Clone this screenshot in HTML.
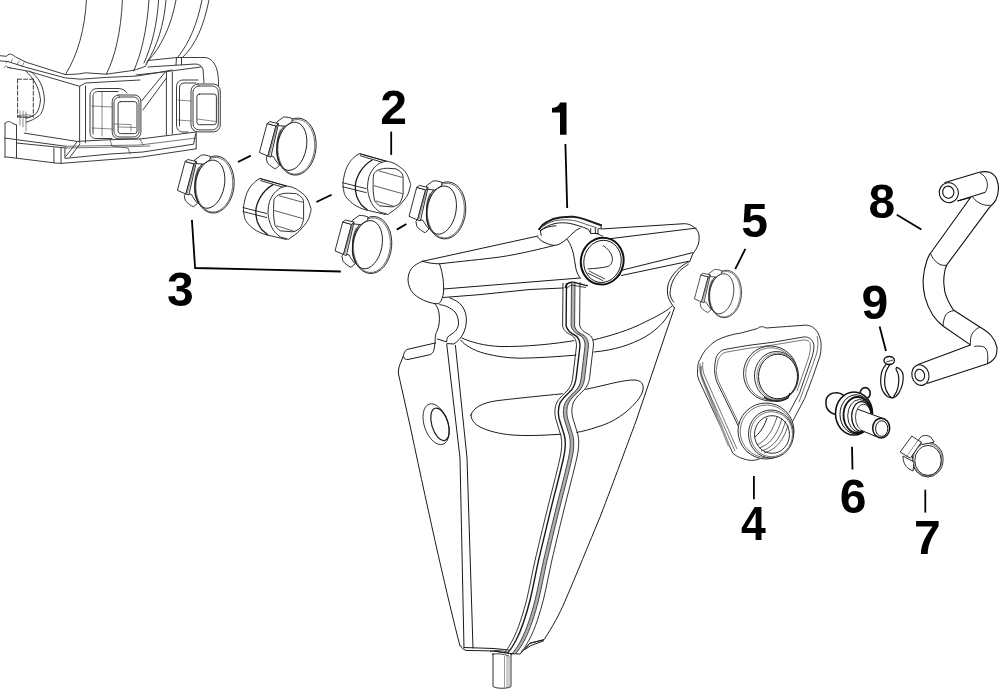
<!DOCTYPE html>
<html><head><meta charset="utf-8"><style>
html,body{margin:0;padding:0;background:#fff;width:1000px;height:689px;overflow:hidden}
svg{position:absolute;left:0;top:0;will-change:transform}
text{font-family:"Liberation Sans",sans-serif;font-weight:bold;font-size:48px;fill:#000}
</style></head><body>
<svg width="1000" height="689" viewBox="0 0 1000 689">
<g id="manifold" fill="none" stroke="#3c3c3c" stroke-width="1" stroke-linejoin="round" stroke-linecap="round">
<!-- big curves -->
<path d="M86.4,0 C85,28 78,55 65.3,74.6"/>
<path d="M122.4,0 C121,32 115,57 106.3,74.2"/>
<path d="M149,0 C147,30 141,55 133.7,70.9"/>
<path d="M158.6,0 C157,25 152,45 144,63"/>
<path d="M166,0 C164,25 157,47 146.5,63"/>
<path d="M176,0 C171,27 161,47 148,61"/>
<path d="M202,0 C197,25 189,43 178,57"/>
<path d="M209,0 C204,25 196,45 182,58"/>
<!-- top rail -->
<path d="M0,55.7 L6.5,56.3 C8,54 10,53.8 11.7,54.4 C13,55 14.5,56 15.7,57 L26.1,62.2 L65.3,74.6 L78.3,74 L85.4,72.8 L106.3,74.2 L129.8,70.9 L136.4,69.6 L145.5,66.3 L148,61"/>
<path d="M0,60.9 L7.8,61.5 L26.1,67.4 L65.3,77.9 L80.9,79.2 L106.3,77.4 L136.4,76.1 L157.2,72.8 L172,70"/>
<path d="M7.8,67.4 L28.7,71.3 L79.6,86.3 L85.5,83 L140,80"/>
<path d="M6,63 L8,61 M11,62.5 L12.5,59 M17,64.5 L19,61 M22,66.5 L24,62.5" stroke-width="0.6"/>
<path d="M4,68 C5,66 6,65.5 7,66 L8,68 M10,67 L11,69" stroke-width="0.6"/>
<!-- left arch -->
<path d="M30,71.3 C38,76 44,86 44.4,100 C44,108 42,113 39.2,115.7 C35,119 30,121 26.1,122.2"/>
<path d="M26.1,71.3 C33,78 39,86 40.5,100 C40,106 38.5,110 36.6,113.1 C33,116 30,117.5 26.1,118.3"/>
<path d="M17.6,79.2 L33.3,79.2 M17.6,79.2 L17.6,117 M33.3,79.2 L33.3,117 M17.6,117 L30,117" stroke-dasharray="4,2"/>
<path d="M18,116 C22,114.5 30,114.5 33,116 C30,118 22,118 18,116 Z" stroke-width="0.6"/>
<!-- posts -->
<path d="M79.6,86.3 L79.6,143 M85.5,86 L85.5,142.5"/>
<path d="M166.4,72 L166.4,135 M172.3,72 L172.3,134"/>
<path d="M141.6,100.9 L165.1,72.2 M142.9,110 L166.4,78"/>
<!-- connector 1 back -->
<path d="M112,138.5 L96,138.5 C92,138.5 90,136 90,132 L90,96 C90,91 93,88.5 98,88.5 L118,88.5 C122,88.5 125,90 127,93"/>
<path d="M93,134 L93,97 C93,93 95,91.5 99,91.5 L118,91.5"/>
<path d="M92,106 L112,107 M92,128 L112,129 M102,92 L102,136" stroke-width="0.6"/>
<!-- connector 1 front -->
<rect x="112.2" y="95" width="28.7" height="43.8" rx="6.5" fill="#fff"/>
<rect x="114" y="97" width="25" height="40" rx="5.5"/>
<rect x="118.1" y="101.6" width="18.9" height="32" rx="2.5"/>
<path d="M114,124 L131,124.5 L131,131 M118,127 L136,127.5" stroke-width="0.6"/>
<!-- right block -->
<path d="M148,60.5 L177,57.5 L205,57.5 C211,58 215,63 217,70 C218.5,76 218.5,80 218.5,86"/>
<path d="M176.5,57.5 L176,65 M181.5,57.5 L181.5,65 M148,67 L195,64 C199,64 202,66 203,69 L204,83 M136,75 L167,71.5 L201,67"/>
<!-- connector 2 back -->
<path d="M188,132 L183,132 C179,132 176.5,129 176.5,125 L176.5,87 C176.5,83 179,80 183,80 L198,80"/>
<path d="M179.5,126 L179.5,88 C179.5,85 181,83 184,83 L196,83"/>
<path d="M178,100 L191,101 M178,120 L191,121" stroke-width="0.6"/>
<!-- connector 2 front -->
<rect x="191" y="84" width="29.3" height="47.9" rx="7" fill="#fff"/>
<rect x="193" y="86" width="25.3" height="43.9" rx="6"/>
<rect x="196.9" y="94" width="19.5" height="30.7" rx="2.5"/>
<path d="M197,119 L216,121.5" stroke-width="0.6"/>
<!-- body lower edge -->
<path d="M24.2,133.1 L77,141.4 L110,139.7 L140,139 L196,132"/>
<!-- base -->
<path d="M5,123.2 L5,157.3 M16.5,125 L16.5,157.8 M5,123.2 C7,121 10,121 12,123 L16.5,125"/>
<path d="M4.4,138 L66,146.3 M16.5,143 L66,148"/>
<path d="M5,156.8 L53.9,162.8 L61,163.4 L140.3,157.2 L196.2,148.8"/>
<path d="M64.9,148.5 L64.9,158.4 L110,154 L142.9,152 L193.6,144.2 L195.6,133.8 M196.2,132.5 L196.2,148.8"/>
<path d="M53.9,148 L53.9,163 M61,148.5 L61,163.4"/>
<path d="M66,156.2 L77,141.9 M70,157 L80,144"/>
<path d="M20,111 L20,125 M23,111 L23,127 M26,112 L26,131" stroke-width="0.6"/>
<path d="M66,146.3 L140,145 L196,138 M66,148 L120,147 L150,146" stroke-width="0.7"/>
<path d="M110,139.7 L112,146 L128,148 L130,154 M140,139 L143,145" stroke-width="0.7"/>
</g>


<g transform="translate(292,146.6)" fill="none" stroke="#1a1a1a" stroke-width="0.9" stroke-linejoin="round">
  <ellipse cx="4.5" cy="0" rx="19.6" ry="28.6" transform="rotate(5 4.5 0)" fill="#fff"/>
  <ellipse cx="4.3" cy="0.2" rx="18.4" ry="27.4" transform="rotate(5 4.3 0.2)" stroke-width="0.6"/>
  <ellipse cx="-0.2" cy="-0.3" rx="14.6" ry="24.4" transform="rotate(11 -0.2 -0.3)"/>
  <path d="M-15.4,-24.5 L-8.5,-29.5 C-5.5,-29.8 -2,-29 0.4,-28 L0,-24.8 L-6.7,-20.4 L-13.8,-21 Z" fill="#fff"/>
  <path d="M-24.2,8.6 L-25.7,11.2 L-24.7,16.2 C-22,19 -19.5,21 -16.6,22.3 L-12.5,18.8 C-15,16 -17,13 -18.5,10 Z" fill="#fff"/>
  <path d="M-24.9,-23 L-32.6,5.9 L-24.1,9.5 L-16,-20.6 Z" fill="#fff"/>
  <path d="M-16,-20.6 L-13.5,-22.9 L-21.2,10.5 L-24.1,9.5 Z" fill="#fff"/>
  <path d="M-14.8,-21.8 L-22.7,9.1" stroke-width="0.5"/>
  <path d="M-24.9,-23 L-22.2,-25 L-13.5,-22.9 L-16,-20.6 Z" fill="#fff"/>
  <path d="M-11.5,-17.3 C-14,-12 -15.3,-6 -15.1,-1 C-15,4 -14.8,9 -14.2,11 C-13,15 -12,17 -11.5,18.8" stroke-width="0.6"/>
</g>
<g transform="translate(210,184.5)" fill="none" stroke="#1a1a1a" stroke-width="0.9" stroke-linejoin="round">
  <ellipse cx="4.5" cy="0" rx="19.6" ry="28.6" transform="rotate(5 4.5 0)" fill="#fff"/>
  <ellipse cx="4.3" cy="0.2" rx="18.4" ry="27.4" transform="rotate(5 4.3 0.2)" stroke-width="0.6"/>
  <ellipse cx="-0.2" cy="-0.3" rx="14.6" ry="24.4" transform="rotate(11 -0.2 -0.3)"/>
  <path d="M-15.4,-24.5 L-8.5,-29.5 C-5.5,-29.8 -2,-29 0.4,-28 L0,-24.8 L-6.7,-20.4 L-13.8,-21 Z" fill="#fff"/>
  <path d="M-24.2,8.6 L-25.7,11.2 L-24.7,16.2 C-22,19 -19.5,21 -16.6,22.3 L-12.5,18.8 C-15,16 -17,13 -18.5,10 Z" fill="#fff"/>
  <path d="M-24.9,-23 L-32.6,5.9 L-24.1,9.5 L-16,-20.6 Z" fill="#fff"/>
  <path d="M-16,-20.6 L-13.5,-22.9 L-21.2,10.5 L-24.1,9.5 Z" fill="#fff"/>
  <path d="M-14.8,-21.8 L-22.7,9.1" stroke-width="0.5"/>
  <path d="M-24.9,-23 L-22.2,-25 L-13.5,-22.9 L-16,-20.6 Z" fill="#fff"/>
  <path d="M-11.5,-17.3 C-14,-12 -15.3,-6 -15.1,-1 C-15,4 -14.8,9 -14.2,11 C-13,15 -12,17 -11.5,18.8" stroke-width="0.6"/>
</g>
<g transform="translate(441.6,210.4)" fill="none" stroke="#1a1a1a" stroke-width="0.9" stroke-linejoin="round">
  <ellipse cx="4.5" cy="0" rx="19.6" ry="28.6" transform="rotate(5 4.5 0)" fill="#fff"/>
  <ellipse cx="4.3" cy="0.2" rx="18.4" ry="27.4" transform="rotate(5 4.3 0.2)" stroke-width="0.6"/>
  <ellipse cx="-0.2" cy="-0.3" rx="14.6" ry="24.4" transform="rotate(11 -0.2 -0.3)"/>
  <path d="M-15.4,-24.5 L-8.5,-29.5 C-5.5,-29.8 -2,-29 0.4,-28 L0,-24.8 L-6.7,-20.4 L-13.8,-21 Z" fill="#fff"/>
  <path d="M-24.2,8.6 L-25.7,11.2 L-24.7,16.2 C-22,19 -19.5,21 -16.6,22.3 L-12.5,18.8 C-15,16 -17,13 -18.5,10 Z" fill="#fff"/>
  <path d="M-24.9,-23 L-32.6,5.9 L-24.1,9.5 L-16,-20.6 Z" fill="#fff"/>
  <path d="M-16,-20.6 L-13.5,-22.9 L-21.2,10.5 L-24.1,9.5 Z" fill="#fff"/>
  <path d="M-14.8,-21.8 L-22.7,9.1" stroke-width="0.5"/>
  <path d="M-24.9,-23 L-22.2,-25 L-13.5,-22.9 L-16,-20.6 Z" fill="#fff"/>
  <path d="M-11.5,-17.3 C-14,-12 -15.3,-6 -15.1,-1 C-15,4 -14.8,9 -14.2,11 C-13,15 -12,17 -11.5,18.8" stroke-width="0.6"/>
</g>
<g transform="translate(367.6,245)" fill="none" stroke="#1a1a1a" stroke-width="0.9" stroke-linejoin="round">
  <ellipse cx="4.5" cy="0" rx="19.6" ry="28.6" transform="rotate(5 4.5 0)" fill="#fff"/>
  <ellipse cx="4.3" cy="0.2" rx="18.4" ry="27.4" transform="rotate(5 4.3 0.2)" stroke-width="0.6"/>
  <ellipse cx="-0.2" cy="-0.3" rx="14.6" ry="24.4" transform="rotate(11 -0.2 -0.3)"/>
  <path d="M-15.4,-24.5 L-8.5,-29.5 C-5.5,-29.8 -2,-29 0.4,-28 L0,-24.8 L-6.7,-20.4 L-13.8,-21 Z" fill="#fff"/>
  <path d="M-24.2,8.6 L-25.7,11.2 L-24.7,16.2 C-22,19 -19.5,21 -16.6,22.3 L-12.5,18.8 C-15,16 -17,13 -18.5,10 Z" fill="#fff"/>
  <path d="M-24.9,-23 L-32.6,5.9 L-24.1,9.5 L-16,-20.6 Z" fill="#fff"/>
  <path d="M-16,-20.6 L-13.5,-22.9 L-21.2,10.5 L-24.1,9.5 Z" fill="#fff"/>
  <path d="M-14.8,-21.8 L-22.7,9.1" stroke-width="0.5"/>
  <path d="M-24.9,-23 L-22.2,-25 L-13.5,-22.9 L-16,-20.6 Z" fill="#fff"/>
  <path d="M-11.5,-17.3 C-14,-12 -15.3,-6 -15.1,-1 C-15,4 -14.8,9 -14.2,11 C-13,15 -12,17 -11.5,18.8" stroke-width="0.6"/>
</g>
<g transform="translate(289.6,212.8)" fill="none" stroke="#1a1a1a" stroke-width="0.9" stroke-linejoin="round">
  <path d="M-29.7,-34.3 C-36,-31 -41,-25 -43.5,-17.5 C-45.5,-11 -46.5,-5 -46,-1.3 C-45.5,3 -44.5,7 -43.9,7.9 C-41,12 -38,15 -33,18 C-28.5,20.5 -24,22 -20.6,22.6 L-3.3,26.7 L-2.3,-26.7 Z" fill="#fff"/>
  <path d="M-29.7,-34.3 L-3.3,-26.7 M-29.2,-32.3 L-3.8,-24.7" />
  <path d="M-16.5,-28.2 C-22,-25 -26,-21 -29,-16 C-32,-11 -33.8,-5 -33.8,-1.3 C-33.8,4 -33,6 -32.3,8.9 C-31,12 -29.5,14.5 -27.7,17 L-21.6,22.1" stroke-width="1.3"/>
  <path d="M-47,-5.3 L-22.6,0.8 M-47,-1.3 L-22.6,4.8"/>
  <path d="M-2.3,-26.7 C1.5,-26 4.5,-25 6.9,-23.6 C10,-21.5 13,-19.5 15,-17.5 C17,-15 18.3,-13 19.3,-10.4 C20,-8.5 20.6,-6.5 21.3,-4.5 C21.8,-3 21.2,-1.5 20.6,0.5 C20,4 18.5,8 16,10.9 C13.5,14 11.5,16.5 8.9,19 C6,21.5 3.5,23.5 0.8,25.1 L-1.3,26.7 L-3,25.8 C-5,25.2 -7.5,24.8 -9.4,24.1 C-12.5,22 -14.5,19.5 -16.5,17 C-18.5,13.5 -19.8,10 -20.6,6.8 C-21.3,3.5 -21.6,1 -21.6,-1.3 C-21.4,-5 -21,-8 -20.1,-11.4 C-19,-14.5 -17.5,-17 -15.5,-19.6 C-13.5,-21.8 -11.5,-23.3 -9.4,-24.7 C-7,-25.8 -4.5,-26.5 -2.3,-26.7 Z" fill="#fff"/>
  <path d="M-15.5,-13.5 C-14,-16 -12.5,-17.5 -10.4,-18.1 C-7,-19.4 -4,-19.6 -1.3,-19.6 L6.9,-19.1 C9,-18 11,-16.5 13,-14.5 C13.8,-13 14,-11 14,-9.4 L14,5.8 C13.5,9 12.5,12 10.9,15 C8,17.5 5,19 2.8,19 L-9.4,18 C-11.5,16.5 -13,15 -14.5,12.9 C-15.5,8 -16,4 -16,0.8 C-16,-5 -16,-10 -15.5,-13.5 Z"/>
  <path d="M-10.4,-17 L13.5,-10.4 M-15.5,-2.3 L13.5,5.8 M-13.4,12.9 L4.8,18.5" stroke-width="0.7"/>
</g>
<g transform="translate(389.1,187.9)" fill="none" stroke="#1a1a1a" stroke-width="0.9" stroke-linejoin="round">
  <path d="M-29.7,-34.3 C-36,-31 -41,-25 -43.5,-17.5 C-45.5,-11 -46.5,-5 -46,-1.3 C-45.5,3 -44.5,7 -43.9,7.9 C-41,12 -38,15 -33,18 C-28.5,20.5 -24,22 -20.6,22.6 L-3.3,26.7 L-2.3,-26.7 Z" fill="#fff"/>
  <path d="M-29.7,-34.3 L-3.3,-26.7 M-29.2,-32.3 L-3.8,-24.7" />
  <path d="M-16.5,-28.2 C-22,-25 -26,-21 -29,-16 C-32,-11 -33.8,-5 -33.8,-1.3 C-33.8,4 -33,6 -32.3,8.9 C-31,12 -29.5,14.5 -27.7,17 L-21.6,22.1" stroke-width="1.3"/>
  <path d="M-47,-5.3 L-22.6,0.8 M-47,-1.3 L-22.6,4.8"/>
  <path d="M-2.3,-26.7 C1.5,-26 4.5,-25 6.9,-23.6 C10,-21.5 13,-19.5 15,-17.5 C17,-15 18.3,-13 19.3,-10.4 C20,-8.5 20.6,-6.5 21.3,-4.5 C21.8,-3 21.2,-1.5 20.6,0.5 C20,4 18.5,8 16,10.9 C13.5,14 11.5,16.5 8.9,19 C6,21.5 3.5,23.5 0.8,25.1 L-1.3,26.7 L-3,25.8 C-5,25.2 -7.5,24.8 -9.4,24.1 C-12.5,22 -14.5,19.5 -16.5,17 C-18.5,13.5 -19.8,10 -20.6,6.8 C-21.3,3.5 -21.6,1 -21.6,-1.3 C-21.4,-5 -21,-8 -20.1,-11.4 C-19,-14.5 -17.5,-17 -15.5,-19.6 C-13.5,-21.8 -11.5,-23.3 -9.4,-24.7 C-7,-25.8 -4.5,-26.5 -2.3,-26.7 Z" fill="#fff"/>
  <path d="M-15.5,-13.5 C-14,-16 -12.5,-17.5 -10.4,-18.1 C-7,-19.4 -4,-19.6 -1.3,-19.6 L6.9,-19.1 C9,-18 11,-16.5 13,-14.5 C13.8,-13 14,-11 14,-9.4 L14,5.8 C13.5,9 12.5,12 10.9,15 C8,17.5 5,19 2.8,19 L-9.4,18 C-11.5,16.5 -13,15 -14.5,12.9 C-15.5,8 -16,4 -16,0.8 C-16,-5 -16,-10 -15.5,-13.5 Z"/>
  <path d="M-10.4,-17 L13.5,-10.4 M-15.5,-2.3 L13.5,5.8 M-13.4,12.9 L4.8,18.5" stroke-width="0.7"/>
</g>

<g id="tank" stroke="#1a1a1a" stroke-width="1" fill="none" stroke-linejoin="round" stroke-linecap="round">
<!-- end cap -->
<path d="M422.5,261.3 C418,263 414,265.5 411.5,268.5 C409,272 408,276 408,280 C408.3,285 410,290 413.5,293.5 C417,297 422,300 428,302 C431,303 434,303.5 437,303.8 L439,303.6 C441.5,301 443,297 443.5,292 C444,284 443,274 439.5,263.8 C434,263.8 428,263 422.5,261.3"/>
<!-- top edge -->
<path d="M422.5,261.3 L538,236"/>
<path d="M439.5,263.8 C460,261.5 485,259 500,257 C520,254 540,249 554.4,245.4"/>
<!-- lower lines of top bar -->
<path d="M443.5,289 L580,278"/>
<path d="M443.2,297.5 L480,294.6 L530,289.5 L563,288"/>
<!-- saddle under clip -->
<path d="M537.6,237 C540,240 542,241.5 544.8,242.6 C548,244 551,245.2 554.4,245.4 C557,245.2 559,244.5 560.8,243.4 C563,242 565,240.5 567.2,238.6 C569,236.8 570.5,235.2 572,233.8 C574,232 575.5,230.8 576.8,229.8 L580,228.2"/>
<path d="M567.2,239.4 C570,243 572,248 573.5,254 C574.5,259 575,264 576,269 C577,273 578.5,276 580.3,278.1"/>
<!-- top right section -->
<path d="M601,229 L684,223.7 C688,223.7 693,225 697.7,231 C699.5,234 699.5,240 698.4,244 C697,248 695,251 692.6,254.2 L689.7,261.5"/>
<path d="M610,238.7 L696.2,228.1"/>
<path d="M621.4,270.3 L692.6,252.7"/>
<path d="M621.4,275.5 L688.2,261.4"/>
<!-- right notch -->
<path d="M689.7,261.5 C684,264 678,268 672.3,276 C668,282 667,288 667.5,293 C668,298 670,302 674.4,307.9"/>
<path d="M688.2,264.4 C683,268 680,270 678,273 C673,279 670.5,285 670,293.4 C670.5,297 671.5,299.5 673.7,302.1"/>
<!-- right side -->
<path d="M674.4,307.9 L636.4,420 C626,448 609,494 599.8,517.7 C590,541 575,578 564.9,601.4 C559,615 553,626 544,639.7 L530,643.2 L520,654"/>
<!-- bottom -->
<path d="M520,654 L509,653.5 L494,651 L466,650.4 C463,649.5 461.5,648 460.7,645.8"/>
<path d="M464,647.5 L494,648.5 L509,650"/>
<path d="M524,650 L531,645.5 L543.3,641"/>
<!-- left side -->
<path d="M460,646 C448,600 430,520 411,430 L398.5,374 C398,370 399,366 401,362 L403.7,354.7 C404.5,351 406,349.4 409,349 L435.1,343"/>
<!-- flange face -->
<path d="M403.7,357 C404,359 406,359.8 408,359.5 L429.8,354.7 C432,354 433.5,352 433.9,350 L435.1,343"/>
<!-- notch S curve -->
<path d="M434.5,303.6 C437,306 438.5,309 439.1,314 C439.8,320 439.5,326 436.8,331.4 C435.5,334 435.1,337 435.1,343"/>
<!-- inner C recess -->
<path d="M439.7,304.7 C445,305 451,308 455,312 C458,316 459,321 458.3,325.6 C457,330 455,332 451,334.5 C448,336 446.5,338 446.7,341.9 L437.4,339"/>
<path d="M449.6,297.8 C455,300 459,302 462,306 C465,310 466.4,315 466.4,320 C466.2,326 465,330 463,334 C461,338 458,341 454,344 L447.3,343.6"/>
<!-- ribs going down on left -->
<path d="M446.7,344 L460,458 L464,648"/>
<path d="M455.4,345.4 L467,458 L473,648"/>
<!-- band lines -->
<path d="M462,338 C470,342 485,346 500,346.5 C525,347 555,344 578,340"/>
<path d="M460.8,340.4 C465,345 472,350 485,353.5 C497,356.5 507,358 520,358.2 C540,358 558,356.5 578,355"/>
<path d="M593,340 C610,336 630,330 645,322 C660,315 668,310 672,306"/>
<path d="M594,352 C615,350 630,345 645,337 C660,328 667,318 670,312"/>
<!-- hole -->
<ellipse cx="436.1" cy="424.2" rx="11.8" ry="21.2" transform="rotate(-19 436.1 424.2)" stroke-width="0.8"/>
<ellipse cx="440" cy="424.3" rx="8.2" ry="16.8" transform="rotate(-17 440 424.3)" stroke-width="1.2"/>
<!-- big ellipse -->
<path d="M471,415 C473,408 482,403 495,401 C510,399 530,397 560,394 C580,391 592,388 605,385 C617,382 627,380 634,380 C641,380 644,384 643,390 C641,398 634,405 626,412 C617,419 608,424 597,427 C583,432 570,434 556,434.5 C540,435.5 525,436 512,435 C500,434 488,431 480,427 C474,424 471,419 471,415 Z"/>
</g>

<g id="seam" stroke="#1a1a1a" fill="none" stroke-linejoin="round">

<path fill="none" d="M563,283 L562.6,326 C564,331 567,333 571,335 C575,337 576.5,341 576.5,346 L573,375 C572.5,382 571,386 568,390 C564,394 559,398 556.5,403 C554.5,408 554.5,413 555.5,418 C557,424 559.5,430 561,436 C562.3,442 561.9,450 560,458 C557,472 551,494 545.6,516.3 C541,535 538,548 535.1,560.2 C532,574 529.5,588 526.6,600 C523,614 518,630 512.6,640 C509,647 506,651 504,653" transform="translate(8.5,0)" stroke="#fff" stroke-width="15"/>
<path fill="none" d="M563,283 L562.6,326 C564,331 567,333 571,335 C575,337 576.5,341 576.5,346 L573,375 C572.5,382 571,386 568,390 C564,394 559,398 556.5,403 C554.5,408 554.5,413 555.5,418 C557,424 559.5,430 561,436 C562.3,442 561.9,450 560,458 C557,472 551,494 545.6,516.3 C541,535 538,548 535.1,560.2 C532,574 529.5,588 526.6,600 C523,614 518,630 512.6,640 C509,647 506,651 504,653" stroke-width="0.9"/>
<path fill="none" d="M563,283 L562.6,326 C564,331 567,333 571,335 C575,337 576.5,341 576.5,346 L573,375 C572.5,382 571,386 568,390 C564,394 559,398 556.5,403 C554.5,408 554.5,413 555.5,418 C557,424 559.5,430 561,436 C562.3,442 561.9,450 560,458 C557,472 551,494 545.6,516.3 C541,535 538,548 535.1,560.2 C532,574 529.5,588 526.6,600 C523,614 518,630 512.6,640 C509,647 506,651 504,653" transform="translate(3.5,0)" stroke-width="1.4"/>
<path fill="none" d="M563,283 L562.6,326 C564,331 567,333 571,335 C575,337 576.5,341 576.5,346 L573,375 C572.5,382 571,386 568,390 C564,394 559,398 556.5,403 C554.5,408 554.5,413 555.5,418 C557,424 559.5,430 561,436 C562.3,442 561.9,450 560,458 C557,472 551,494 545.6,516.3 C541,535 538,548 535.1,560.2 C532,574 529.5,588 526.6,600 C523,614 518,630 512.6,640 C509,647 506,651 504,653" transform="translate(10.25,0)" stroke="#b0b0b0" stroke-width="3"/>
<path fill="none" d="M563,283 L562.6,326 C564,331 567,333 571,335 C575,337 576.5,341 576.5,346 L573,375 C572.5,382 571,386 568,390 C564,394 559,398 556.5,403 C554.5,408 554.5,413 555.5,418 C557,424 559.5,430 561,436 C562.3,442 561.9,450 560,458 C557,472 551,494 545.6,516.3 C541,535 538,548 535.1,560.2 C532,574 529.5,588 526.6,600 C523,614 518,630 512.6,640 C509,647 506,651 504,653" transform="translate(8.5,0)" stroke-width="0.8"/>
<path fill="none" d="M563,283 L562.6,326 C564,331 567,333 571,335 C575,337 576.5,341 576.5,346 L573,375 C572.5,382 571,386 568,390 C564,394 559,398 556.5,403 C554.5,408 554.5,413 555.5,418 C557,424 559.5,430 561,436 C562.3,442 561.9,450 560,458 C557,472 551,494 545.6,516.3 C541,535 538,548 535.1,560.2 C532,574 529.5,588 526.6,600 C523,614 518,630 512.6,640 C509,647 506,651 504,653" transform="translate(12,0)" stroke-width="0.8"/>
<path fill="none" d="M563,283 L562.6,326 C564,331 567,333 571,335 C575,337 576.5,341 576.5,346 L573,375 C572.5,382 571,386 568,390 C564,394 559,398 556.5,403 C554.5,408 554.5,413 555.5,418 C557,424 559.5,430 561,436 C562.3,442 561.9,450 560,458 C557,472 551,494 545.6,516.3 C541,535 538,548 535.1,560.2 C532,574 529.5,588 526.6,600 C523,614 518,630 512.6,640 C509,647 506,651 504,653" transform="translate(17,-1)" stroke-width="0.9"/>
<path d="M544,639.7 L530,643.2 L520,654 L509,653.5 L494,651" stroke-width="1"/>
<!-- seam top cap -->
<path d="M565.1,288 C566,284.5 568.5,282.5 571.5,282.2 C574,282 576,282.6 577.9,283.4 L584.9,285.1 L587.8,285.7" stroke-width="1.4"/>
<path d="M567,288.5 C568,286.5 570,285.5 572.5,285.3 L586,287.5" stroke-width="0.8"/>
</g>
<g id="clip" stroke="#1a1a1a" fill="none" stroke-linejoin="round" stroke-linecap="round">
<path d="M539.1,229.2 C541,226 544,223.5 547,222 C551,219.5 555,218 560,217.4 C565,216.8 569,216.6 573.1,216.7 C577,217 581,218 584.8,219.4 L601.1,225.2" stroke-width="2"/>
<path d="M540.4,230.5 C545,227 550,224.5 556.1,223.3 C560,222.6 565,222.6 569.2,223.3 C575,224.5 582,226.5 588.1,229.2 L590.7,233.1" stroke-width="1"/>
<path d="M543,226.5 C548,222.5 554,220.5 560,220 C566,219.6 572,219.8 578,221.5 L597,228" stroke-width="0.7"/>
<path d="M601.1,225.2 L601.3,228 L598,229 L598,233.5 M595.3,228.5 L595.3,233.5 M590.7,228.5 L590.7,233.5 L598,233.5" stroke-width="0.9"/>
<path d="M539.1,229.2 L540.4,230.5 L541.2,235.5 M540.4,230.5 C545,227.5 550,226 556,225.8" stroke-width="1"/>
</g>
<g id="outlet" stroke="#111" fill="none">
<ellipse cx="602.2" cy="261.1" rx="21.3" ry="23.5" transform="rotate(12 602.2 261.1)" stroke-width="2" fill="#fff"/>
<ellipse cx="602.5" cy="261.4" rx="18.6" ry="21.2" transform="rotate(12 602.5 261.4)" stroke-width="0.9"/>
<path d="M603.1,245.5 C607,248 611,252 612.2,257 C613,262 611,265 608.3,266.4 C602,268 594,268.5 587.4,269" stroke-width="0.9"/>
<path d="M587.4,272.9 L603.1,280.7 M589,271 L605,279" stroke-width="0.8"/>
<path d="M595.3,233.1 L603.1,236.3" stroke-width="0.8"/>
</g>

<!-- part 5 clamp -->
<g transform="translate(721.5,294) scale(0.83)" fill="none" stroke="#1a1a1a" stroke-width="0.9" stroke-linejoin="round">
  <ellipse cx="4.5" cy="0" rx="19.6" ry="28.6" transform="rotate(5 4.5 0)" fill="#fff"/>
  <ellipse cx="4.3" cy="0.2" rx="18.4" ry="27.4" transform="rotate(5 4.3 0.2)" stroke-width="0.6"/>
  <ellipse cx="-0.2" cy="-0.3" rx="14.6" ry="24.4" transform="rotate(11 -0.2 -0.3)"/>
  <path d="M-15.4,-24.5 L-8.5,-29.5 C-5.5,-29.8 -2,-29 0.4,-28 L0,-24.8 L-6.7,-20.4 L-13.8,-21 Z" fill="#fff"/>
  <path d="M-24.2,8.6 L-25.7,11.2 L-24.7,16.2 C-22,19 -19.5,21 -16.6,22.3 L-12.5,18.8 C-15,16 -17,13 -18.5,10 Z" fill="#fff"/>
  <path d="M-24.9,-23 L-32.6,5.9 L-24.1,9.5 L-16,-20.6 Z" fill="#fff"/>
  <path d="M-16,-20.6 L-13.5,-22.9 L-21.2,10.5 L-24.1,9.5 Z" fill="#fff"/>
  <path d="M-14.8,-21.8 L-22.7,9.1" stroke-width="0.5"/>
  <path d="M-24.9,-23 L-22.2,-25 L-13.5,-22.9 L-16,-20.6 Z" fill="#fff"/>
  <path d="M-11.5,-17.3 C-14,-12 -15.3,-6 -15.1,-1 C-15,4 -14.8,9 -14.2,11 C-13,15 -12,17 -11.5,18.8" stroke-width="0.6"/>
</g>
<!-- drain spout -->
<g id="spout" fill="none" stroke="#1a1a1a" stroke-width="0.9">
<path d="M493,653 L493,686 C493,689 511,689 511,686 L511,654" fill="#fff"/>
<path d="M504.5,656 L504.5,687.5 M507,656 L507,687.5 M509,656 L509,687.5" stroke-width="0.6" stroke="#555"/>
<path d="M490,652 C493,650 500,650 507,652 L512,655 M492,654.5 C497,653 503,654 509,656" stroke-width="0.8"/>
</g>
<!-- part 4 grommet -->
<g id="p4" fill="none" stroke="#1a1a1a" stroke-width="0.9" stroke-linejoin="round">
<path d="M697.6,371 C697.5,365 698.5,361 700.2,359.2 C702.5,354 705,350 708.1,347.4 C712,343 716,340.5 721.1,338.3 C728,335.5 734,334 740.7,333.1 L757.7,328.5 C759,326.5 763,326 766,328 L786.5,326.5 L804.7,325.2 C808,325 811,325.8 812.6,327.2 C816,329.5 818,332 819.1,335.7 C820.5,339 821.2,342 821.1,346.1 C821,350 820.8,353 819.8,356.6 L812.6,377.5 L804.7,398.4 L791.7,423.1"/>
<path d="M697.6,371 C697,375 698,377 698.9,380 L732.9,453.2 C736,456 739,457.5 742,458.4 C745,459.5 748,460.2 751.2,460.4 C754.5,460.5 757.5,459.8 760.3,458.4"/>
<path d="M700.8,366 C700.5,371 701,375 702.5,379 L729,446" stroke="#9a9a9a" stroke-width="2.4"/>
<path d="M700.2,363.1 C699.5,368 700,372 701.5,376 L735,451 M702.8,362 C702.3,367 702.8,371 704.3,375 L737,449" stroke-width="0.6"/>
<path d="M716.2,370.5 C716.5,375 717.5,379 718.8,382 L741,428" stroke-width="0.6"/>
<path d="M714.6,371 C714.5,365 715.5,358 717.2,355.3 C719,352 722,350 725,349.4 L747.3,345.5 L773.4,342.2 L803.4,337 C806,336.5 809,337.5 811.3,339.6 C813,341.5 814,344 813.9,346.1 C813.8,350 813,355 811.3,359.2 L799.5,393.2 L789.1,412.7"/>
<path d="M714.6,371 C715,376 716,380 717.2,382.7 L739.4,428.3"/>
<path d="M716.5,370 C717,364 718,359 720,356.5 C722,353.5 724,352.5 727,352 L747,348.5 L773,345 L803,340 C806,339.5 808.5,340.5 810,342.5" stroke-width="0.6"/>
<path d="M817,336 C818.5,341 818,348 816.5,354 L808,378 L799,402 M810,343 C811,347 810,353 808.5,358 L797,391" stroke-width="0.6"/>
<!-- upper port -->
<ellipse cx="770.5" cy="373.5" rx="27" ry="27.5" fill="#fff"/>
<ellipse cx="771" cy="373.8" rx="25.3" ry="26" stroke-width="0.6"/>
<ellipse cx="776.5" cy="376" rx="22" ry="24.5" fill="#fff"/>
<ellipse cx="778" cy="376.5" rx="19.5" ry="22.3" stroke-width="1"/>
<ellipse cx="777.4" cy="376.3" rx="20.5" ry="23.3" stroke-width="0.5"/>
<path d="M764,397 C770,402 780,403 788,398 L790,393" stroke-width="1.2"/>
<!-- lower port -->
<ellipse cx="766" cy="431" rx="28" ry="28" fill="#fff"/>
<ellipse cx="766.5" cy="431.3" rx="26.3" ry="26.3" stroke-width="0.6"/>
<ellipse cx="771" cy="434" rx="22.5" ry="24" fill="#fff"/>
<ellipse cx="771.5" cy="434.2" rx="21" ry="22.5" stroke-width="0.6"/>
<ellipse cx="772" cy="434.5" rx="17.5" ry="18.8"/>
<path d="M759,448 C766,446 776,440 782,418" stroke-width="0.7"/>
<path d="M761,451 C769,449 780,442 785.5,421" stroke-width="0.7"/>
<path d="M764,453 C772,451 783,444 788,425" stroke-width="0.7"/>
<path d="M757,445 C763,442 771,436 777,417" stroke-width="0.7"/>
<path d="M755,437 C758,434 763,430 767,418" stroke-width="1"/>
</g>
<!-- part 6 valve -->
<g id="p6" fill="none" stroke="#111" stroke-linejoin="round">
<path d="M843.5,395.1 C841,393.5 839,392.7 836.9,392.7 C834,392.7 831.5,393.2 830.3,394.2 C827.5,396 826.2,398.5 826,400.8 C825.8,403 826,405.5 826.5,407.4 C827.5,409.5 828.8,411 830.3,412.1 C832,413.3 833.5,414 835,414.4" stroke-width="1.5" fill="#fff"/>
<ellipse cx="865.2" cy="393.2" rx="5" ry="5.6" stroke-width="1.6" fill="#fff"/>
<ellipse cx="854" cy="413.5" rx="18.5" ry="21.5" stroke-width="1.6" fill="#fff"/>
<ellipse cx="856" cy="414.3" rx="16" ry="19.5" stroke-width="1"/>
<ellipse cx="857.5" cy="415" rx="14" ry="18" stroke-width="1.8"/>
<ellipse cx="859.5" cy="415.8" rx="11.8" ry="16.3" stroke-width="0.9"/>
<ellipse cx="861.5" cy="416.5" rx="9.8" ry="14.8" stroke-width="1.2"/>
<ellipse cx="863.5" cy="417.2" rx="8" ry="13" stroke-width="0.8"/>
<path d="M857.6,409.2 L883.1,417.7 L881,438 L874.6,435.7 L860.5,430 Z" fill="#fff" stroke="none"/>
<path d="M857.6,409.2 L883.1,418.5 M860.5,430 L876,436.5" stroke-width="1"/>
<ellipse cx="881.2" cy="428.1" rx="8.5" ry="9.9" stroke-width="1.5" fill="#fff"/>
<ellipse cx="881.7" cy="428.6" rx="6.1" ry="7.8" stroke-width="1"/>
</g>
<!-- part 7 -->
<g id="p7" fill="none" stroke="#1a1a1a" stroke-width="0.9" stroke-linejoin="round">
<circle cx="927.7" cy="459.5" r="1" stroke="none"/>
<ellipse cx="927.7" cy="459.5" rx="15.4" ry="17.5" fill="#fff"/>
<ellipse cx="927.5" cy="459.6" rx="14.4" ry="16.4" stroke-width="0.6"/>
<ellipse cx="928" cy="460.4" rx="13.2" ry="15" />
<path d="M918.1,440.4 L921.3,436.4 C923,435.6 925,435.4 926.9,435.6 C928.5,435.9 929.8,436.5 930.9,437.2 L934.1,442 C932.5,442.3 931,442.7 929.3,443.2 L922.1,444.4 Z" fill="#fff"/>
<path d="M903,456 C903,462 905,466 909,469 L913,471 L914,462 Z" fill="#fff"/>
<path d="M900.2,452 L911.8,436 L918.1,440.4 L907,456.3 Z" fill="#fff"/>
<path d="M918.1,440.4 L921.5,442 L910.5,458 L907,456.3" fill="#fff"/>
</g>
<!-- part 9 clip -->
<g id="p9" fill="none" stroke="#111" stroke-width="1.2" stroke-linejoin="round">
<path d="M886.1,364.4 C883,368 881.2,372 880.9,376.6 C880.5,380 880.6,384 881.3,387 C882.5,391 884.5,394.5 887.4,396.6 C889,397.6 891,398 892.6,397.9 C895,397.6 897,395.6 898.7,393.1 C900.5,390 902,387 902.6,383.5 C903.2,380 903.4,377.5 903.1,374.8 C902.7,372.5 901.8,370.8 900.5,369.6 C899,368.3 897.8,367.6 896.6,367.4 C896,368 896,369 896.1,369.5 C897.5,372 898.5,374 898.7,376.6 C899,380 898.8,384 897.9,387.9 C897,391.5 895.5,394 893.5,396.6"/>
<path d="M890,364.4 C887.5,368 885.8,371 885.2,374.8 C884.6,378 884.5,382 884.8,385.3 C885.3,389 887,392.5 889.2,395.7 C890,396.8 891,397.5 892.6,397.9"/>
<ellipse cx="889.2" cy="360.5" rx="5.2" ry="4" stroke-width="1.4" fill="#fff"/>
<path d="M886,362 L893,360" stroke-width="0.8"/>
</g>
<!-- part 8 hose -->
<g id="p8" fill="none" stroke="#111" stroke-width="1.1" stroke-linejoin="round">
<path d="M944.4,182.7 L979.3,172.2 C983,171.5 987,171.5 989.7,172.2 C993,173.5 995.5,176 996.7,179.2 C998,182.5 998.6,186 998.4,189.6 C998.2,193.5 997.3,197 995.8,200.1 C994,203 992,205 989.7,207.1 L947,264.6 C945.5,267 944.8,270 944.4,273.3 C943.8,277 943.5,281 944,285 C944.4,288 944.6,290 944.9,292.1 C946.5,298 949.5,304 953.4,310 L979.8,327 C984,329.5 988,332 991.1,335.5 C994,339 996,343 996.8,346.8 C997.3,350 996.8,353 995.8,356.2 C994,359.5 991,362 987.4,363.8 L927,383.6"/>
<path d="M917.5,364.7 L970.4,344.9 L943,326 C938,322 935,318.5 932.6,314.7 C929,309 926.5,303 925.1,297.7 C923.5,291 922.8,285 923.2,278.9 C923.6,272 925,266 927,260 C928,257.5 929,255 930.5,253.2 L970.5,197.5 L957.5,201"/>
<path d="M957.5,201 L985.4,192.2"/>
<path d="M980.1,173.1 C983.5,175 985.5,177 986.2,179.2 C987.5,182 987.6,185 987.1,187.9 C986.7,189.5 986,191 985.4,192.2" stroke-width="0.9"/>
<path d="M972.3,196.6 C974,199 975.5,200.5 977.5,201.8 C980,203.5 983,204.8 986.2,205.3 L990.6,205.3" stroke-width="0.9"/>
<path d="M930.5,253.2 C931.5,256 932.5,257.8 933.9,259.3 C935.5,261.5 937.5,263.3 940,264.6 C942,265.3 944.5,265.6 947,265.4" stroke-width="0.9"/>
<path d="M943,326 C943.3,322 944,318 945.8,314.7 C947.5,312.5 950.5,311 954.3,310.6" stroke-width="0.9"/>
<path d="M970.4,344.9 C970.3,341 970.5,338 971.3,335.5 C973,331.5 976,329 979.8,327" stroke-width="0.9"/>
<path d="M974.2,346.5 C977.5,345.8 981,346 983.6,346.8 C985.5,348 987,350 987.4,352.5 C988,356 987.8,360 987.4,363.8" stroke-width="0.9"/>
<ellipse cx="948.8" cy="192.7" rx="9.6" ry="10" transform="rotate(-15 948.8 192.7)" fill="#fff"/>
<ellipse cx="948.3" cy="192.2" rx="5.6" ry="6.1" transform="rotate(-15 948.3 192.2)"/>
<ellipse cx="920.4" cy="375.1" rx="8.5" ry="10.4" transform="rotate(-15 920.4 375.1)" fill="#fff"/>
<ellipse cx="919.8" cy="375.1" rx="4.8" ry="5.9" transform="rotate(-15 919.8 375.1)"/>
</g>

<g id="nums">
<path d="M560,102.6 L566.5,102.6 L566.5,134.8 L560,134.8 L560,112.4 L552,112.4 L552,108 C556,108 559,106 560,102.6 Z" fill="#000"/>
<text x="380.2" y="124">2</text>
<text x="167" y="305.5">3</text>
<text x="0" y="0" transform="translate(740.9,540) scale(0.93,1)">4</text>
<text x="741.3" y="237">5</text>
<text x="839.8" y="512.9">6</text>
<text x="914" y="553.8">7</text>
<text x="868.4" y="218">8</text>
<text x="861.5" y="318.8">9</text>
</g>
<g id="leaders" stroke="#000" stroke-width="1.8" fill="none" stroke-linecap="butt">
<path d="M565.4,144 L567.2,208"/>
<path d="M391.2,131.6 L391.2,154.9"/>
<path d="M191.9,219.9 L195.1,268 L340.8,271.5"/>
<path d="M753.9,476 L753.9,499.2"/>
<path d="M745.4,248.9 L735.2,269.2"/>
<path d="M852,446.8 L852.5,469.6"/>
<path d="M925.3,489.7 L925.3,512.6"/>
<path d="M896.8,214.7 L921.4,229.6"/>
<path d="M879.6,326.4 L886,351"/>
<path d="M238,162 L250.8,155.6"/>
<path d="M316.4,202 L331.6,194.8"/>
<path d="M396.8,229.6 L406.4,224"/>
</g>

</svg>
</body></html>
